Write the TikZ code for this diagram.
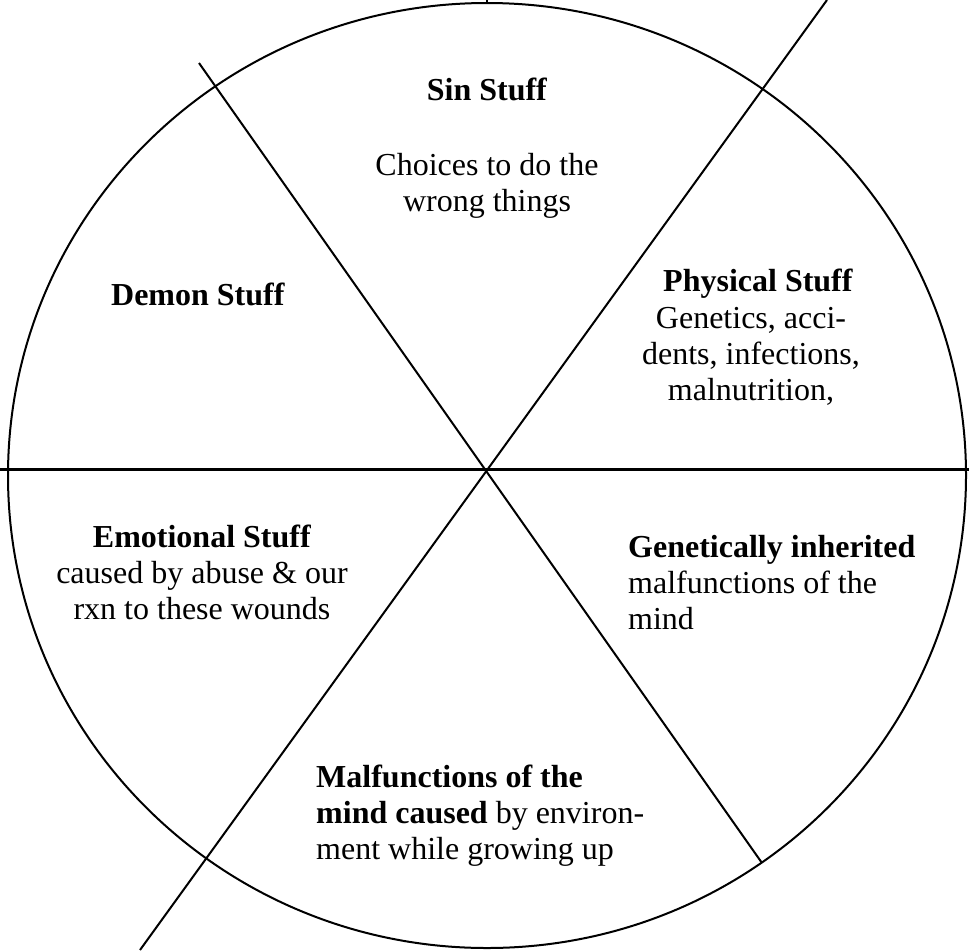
\documentclass[tikz,border=0pt]{standalone}
\usepackage{fontspec}
\setmainfont{Liberation Serif}
\tikzset{
    txt/.style={font=\fontsize{32}{36}\selectfont, inner sep=0pt},
    spoke/.style={line width=2pt}
}
\begin{document}
\begin{tikzpicture}[x=1pt, y=-1pt]
            \useasboundingbox (0,0) rectangle (969,951);

            % Define the wheel and its spokes
            \coordinate (O) at (487,470);
            \draw[spoke] (487,475.5) ellipse [x radius=479, y radius=472.5];
            \draw[spoke] (487,0) -- (487,4);
            \coordinate (W) at (0,469);
            \coordinate (E) at (969,469);
            \coordinate (NW) at (199,63);
            \coordinate (SE) at (762,863);
            \coordinate (NE) at (827,0);
            \coordinate (SW) at (140,950);
            \draw[line width=3pt] (W) -- (E);
            \draw[spoke] (NW) -- (SE);
            \draw[spoke] (NE) -- (SW);

            % Define the labels (base = baseline of the last line)
            \node[txt, anchor=base] (sin) at (487,100) {\textbf{Sin Stuff}};
            \node[txt, anchor=base, align=center] (choices) at (487,211) {Choices to do the\\wrong things};
            \node[txt, anchor=base] (demon) at (198,305) {\textbf{Demon Stuff}};
            \node[txt, anchor=base west] (phys) at (663,291) {\textbf{Physical Stuff}};
            \node[txt, anchor=base, align=center] (physbody) at (751,400) {Genetics, acci-\\dents, infections,\\malnutrition,};
            \node[txt, anchor=base, align=center] (emo) at (202,619) {\textbf{Emotional Stuff}\\caused by abuse \& our\\rxn to these wounds};
            \node[txt, anchor=base west, align=left] (gen) at (628,629) {\textbf{Genetically inherited}\\malfunctions of the\\mind};
            \node[txt, anchor=base west, align=left] (mal) at (316,859) {\textbf{Malfunctions of the}\\\textbf{mind caused} by environ-\\ment while growing up};
        \end{tikzpicture}
\end{document}
